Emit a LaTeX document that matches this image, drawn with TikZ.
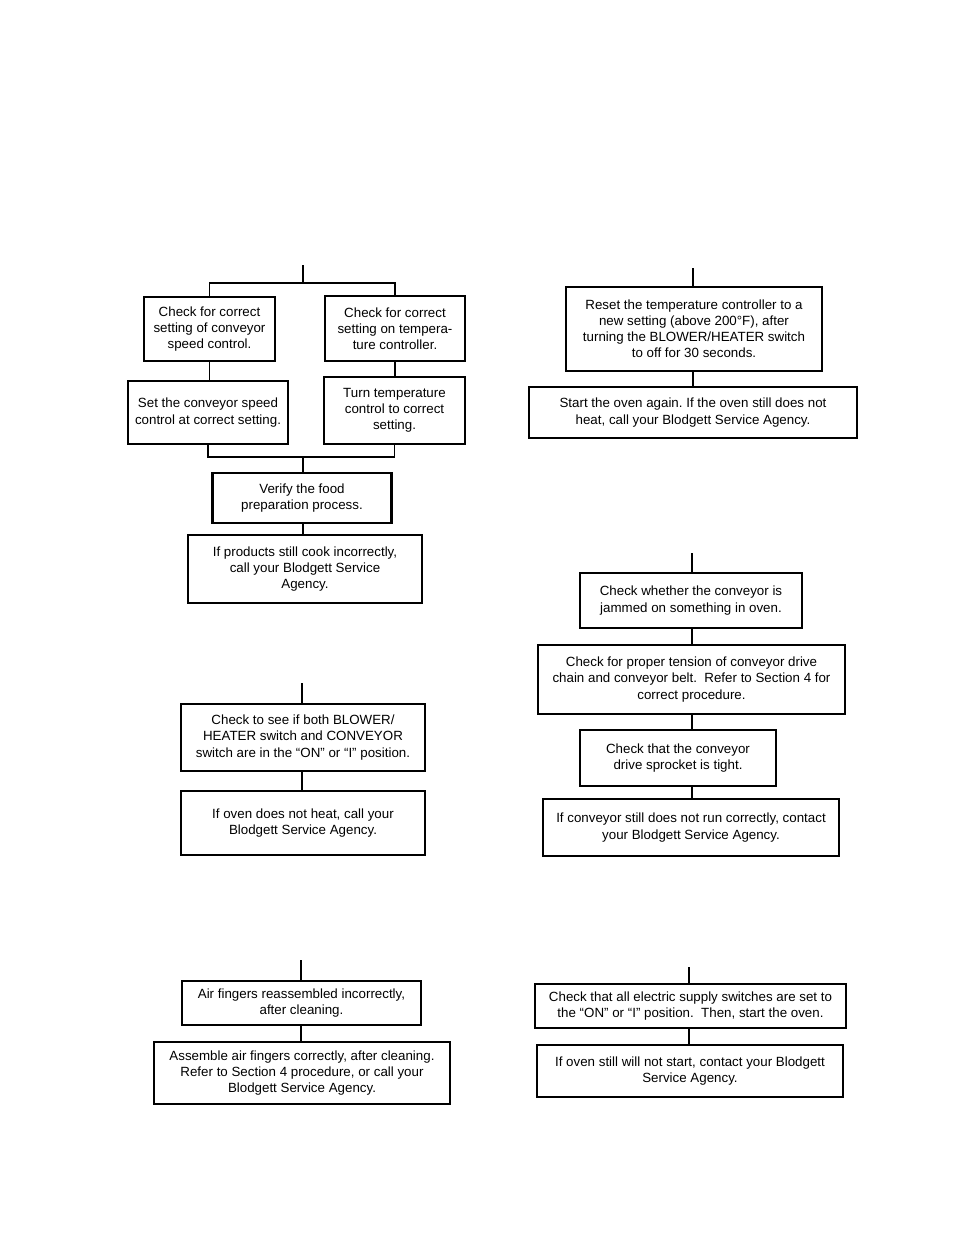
\documentclass[tikz,border=0pt]{standalone}
\usepackage{fontspec}
\setmainfont{Liberation Sans}
\frenchspacing
\begin{document}
\begin{tikzpicture}[x=0.75pt,y=-0.75pt,
  box/.style={draw, line width=2pt, align=center, inner sep=0pt,
              font=\fontsize{10}{12.1}\selectfont},
  sz/.style 2 args={minimum width=#1*0.75pt, minimum height=#2*0.75pt},
  link/.style={line width=1pt}]
\useasboundingbox (0,0) rectangle (954,1235);

% ---------- top left ----------
\node[box, sz={131}{64}] (A) at (209.5,329) {Check for correct\\setting of conveyor\\speed control.};
\node[box, sz={140}{65}] (B) at (395,328.5) {Check for correct\\setting on tempera-\\ture controller.};
\node[box, sz={160}{63}] (C) at (208,412.5) {Set the conveyor speed\\control at correct setting.};
\node[box, sz={141}{67}] (D) at (394.5,410.5) {Turn temperature\\control to correct\\setting.};
\node[box, sz={179}{50}] (E) at (302,498) {Verify the food\\preparation process.};
\node[box, sz={234}{68}] (F) at (305,569) {If products still cook incorrectly,\\call your Blodgett Service\\Agency.};
\coordinate (t1) at (303,265);
\coordinate (j1) at (303,283);
\coordinate (j2) at (303,457);
\draw[link] (t1) -- (j1);
\draw[link] (j1) -| (A.north);
\draw[link] (j1) -| (B.north);
\draw[link] (A.south) -- (A.south |- C.north);
\draw[link] (B.south) -- (B.south |- D.north);
\draw[link] (C.south) |- (j2);
\draw[link] (D.south) |- (j2);
\draw[link] (j2) -- (j2 |- E.north);
\draw[link] (E.south -| j2) -- (j2 |- F.north);

% ---------- top right ----------
\node[box, sz={256}{84}] (G) at (694,329) {Reset the temperature controller to a\\new setting (above 200°F), after\\turning the BLOWER/HEATER switch\\to off for 30 seconds.};
\node[box, sz={328}{51}] (H) at (693,412.5) {Start the oven again. If the oven still does not\\heat, call your Blodgett Service Agency.};
\coordinate (t2) at (693,268);
\draw[link] (t2) -- (t2 |- G.north);
\draw[link] (G.south -| t2) -- (t2 |- H.north);

% ---------- middle left ----------
\node[box, sz={244}{67}] (I) at (303,737.5) {Check to see if both BLOWER/\\HEATER switch and CONVEYOR\\switch are in the “ON” or “I” position.};
\node[box, sz={244}{64}] (J) at (303,823) {If oven does not heat, call your\\Blodgett Service Agency.};
\coordinate (t3) at (302,683);
\draw[link] (t3) -- (t3 |- I.north);
\draw[link] (I.south -| t3) -- (t3 |- J.north);

% ---------- middle right ----------
\node[box, sz={222}{55}] (K) at (691,600.5) {Check whether the conveyor is\\jammed on something in oven.};
\node[box, sz={307}{69}] (L) at (691.5,679.5) {Check for proper tension of conveyor drive\\chain and conveyor belt.\ \ Refer to Section 4 for\\correct procedure.};
\node[box, sz={196}{56}] (M) at (678,758) {Check that the conveyor\\drive sprocket is tight.};
\node[box, sz={296}{57}] (N) at (691,827.5) {If conveyor still does not run correctly, contact\\your Blodgett Service Agency.};
\coordinate (t4) at (692,553);
\draw[link] (t4) -- (t4 |- K.north);
\draw[link] (K.south -| t4) -- (t4 |- L.north);
\draw[link] (L.south -| t4) -- (t4 |- M.north);
\draw[link] (M.south -| t4) -- (t4 |- N.north);

% ---------- bottom left ----------
\node[box, sz={239}{44}] (O) at (301.5,1003) {Air fingers reassembled incorrectly,\\after cleaning.};
\node[box, sz={296}{62}] (P) at (302,1073) {Assemble air fingers correctly, after cleaning.\\Refer to Section 4 procedure, or call your\\Blodgett Service Agency.};
\coordinate (t5) at (301,960);
\draw[link] (t5) -- (t5 |- O.north);
\draw[link] (O.south -| t5) -- (t5 |- P.north);

% ---------- bottom right ----------
\node[box, sz={311}{44}] (Q) at (690.5,1006) {Check that all electric supply switches are set to\\the “ON” or “I” position.\ \ Then, start the oven.};
\node[box, sz={306}{52}] (R) at (690,1071) {If oven still will not start, contact your Blodgett\\Service Agency.};
\coordinate (t6) at (689,967);
\draw[link] (t6) -- (t6 |- Q.north);
\draw[link] (Q.south -| t6) -- (t6 |- R.north);
\end{tikzpicture}
\end{document}
